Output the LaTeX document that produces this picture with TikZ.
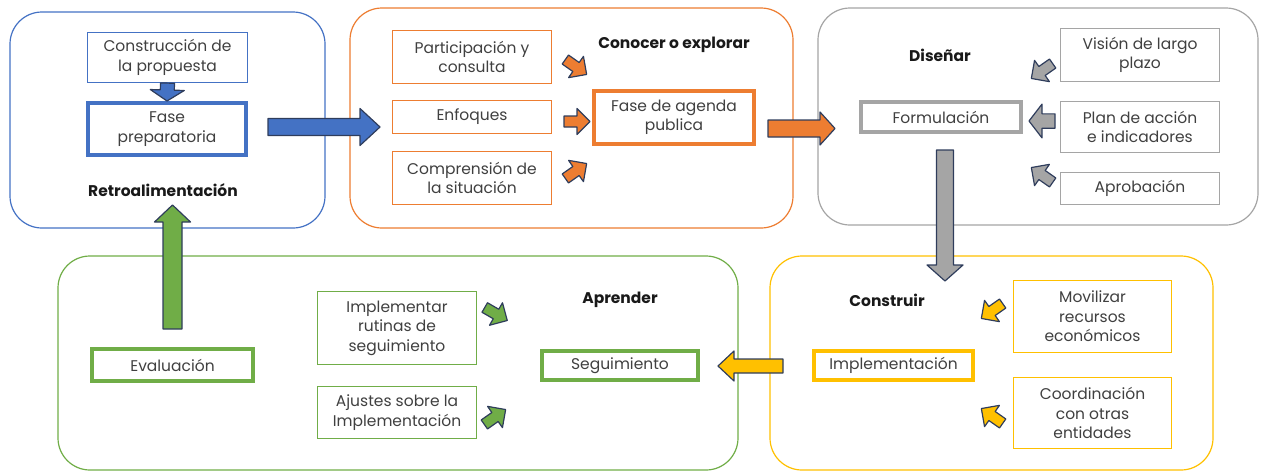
\documentclass[tikz,border=0pt]{standalone}
\usepackage{fontspec}
\setmainfont{Poppins}
\usetikzlibrary{calc}
\definecolor{stageblue}{HTML}{4472C4}
\definecolor{stageorange}{HTML}{ED7D31}
\definecolor{stagegray}{HTML}{A5A5A5}
\definecolor{stagegreen}{HTML}{70AD47}
\definecolor{stageyellow}{HTML}{FFC000}
\definecolor{outlinenavy}{HTML}{2F3D5C}
\definecolor{textgray}{HTML}{404040}
\tikzset{
  panel/.style={draw=#1, line width=1.2pt, rounded corners=32pt},
  wh/.style 2 args={minimum width=#1pt, minimum height=#2pt},
  subbox/.style={draw=#1, line width=1.2pt, fill=white, text=textgray, align=center,
    inner sep=1pt, font=\fontsize{15.5}{19.5}\selectfont},
  phasebox/.style={subbox=#1, line width=4pt},
  heading/.style={font=\fontsize{15.5}{18}\selectfont\bfseries, text=black!90},
  arrowline/.style={draw=outlinenavy, line width=1.2pt, line join=round},
}
\newcommand{\blockarrow}[6]{%
  \coordinate (ba-base) at ($(#3)!#6!(#2)$);
  \draw[arrowline, fill=#1] ($(#2)!#4!90:(#3)$) -- ($(ba-base)!#4!90:(#3)$)
    -- ($(ba-base)!#5!90:(#3)$) -- (#3) -- ($(ba-base)!#5!-90:(#3)$)
    -- ($(ba-base)!#4!-90:(#3)$) -- ($(#2)!#4!-90:(#3)$) -- cycle;}
\newcommand{\tinyarrow}[4][]{%
  \draw[arrowline, fill=#2, shift={(#3)}, rotate=#4, #1]
    (-13,-5.5) -- (0,-5.5) -- (0,-13) -- (13,0) -- (0,13) -- (0,5.5) -- (-13,5.5) -- cycle;}
\begin{document}
\begin{tikzpicture}[x=1pt, y=-1pt]
  \useasboundingbox (0,0) rectangle (1261,474);
  \draw[panel=stageblue] (10,12) rectangle (325,228);
  \draw[panel=stageorange] (350,8) rectangle (793,228);
  \draw[panel=stagegray] (818,8) rectangle (1258,225);
  \draw[panel=stagegreen] (58,256) rectangle (738,470);
  \draw[panel=stageyellow] (770,256) rectangle (1213,470);

  \node[subbox=stageblue, wh={160}{50}] (propuesta) at (167.5,57.5) {Construcción de\\la propuesta};
  \node[phasebox=stageblue, wh={158}{52}] (preparatoria) at (167,129) {Fase\\preparatoria};
  \node[heading] (retro) at (163,190) {Retroalimentación};

  \node[subbox=stageorange, wh={159}{53}] (participacion) at (472,57) {Participación y\\consulta};
  \node[subbox=stageorange, wh={159}{33}] (enfoques) at (472,117) {Enfoques};
  \node[subbox=stageorange, wh={159}{53}] (comprension) at (472,178) {Comprensión de\\la situación};
  \node[heading] (conocer) at (674,45) {Conocer o explorar};
  \node[phasebox=stageorange, wh={160}{53}] (agenda) at (674,117.5) {Fase de agenda\\publica};

  \node[heading] (disenar) at (940,55) {Diseñar};
  \node[phasebox=stagegray, wh={160}{30}] (formulacion) at (941,117) {Formulación};
  \node[subbox=stagegray, wh={159}{53}] (vision) at (1140,55) {Visión de largo\\plazo};
  \node[subbox=stagegray, wh={159}{51}] (plan) at (1140,127) {Plan de acción\\e indicadores};
  \node[subbox=stagegray, wh={159}{32}] (aprobacion) at (1140,188.5) {Aprobación};

  \node[phasebox=stagegreen, wh={161}{32}] (evaluacion) at (172.5,365) {Evaluación};
  \node[subbox=stagegreen, wh={159}{73}] (rutinas) at (397,328) {Implementar\\rutinas de\\seguimiento};
  \node[subbox=stagegreen, wh={159}{52}] (ajustes) at (397,412.5) {Ajustes sobre la\\Implementación};
  \node[heading] (aprender) at (620,300) {Aprender};
  \node[phasebox=stagegreen, wh={156}{29}] (seguimiento) at (620,365.5) {Seguimiento};

  \node[heading] (construir) at (887,300) {Construir};
  \node[phasebox=stageyellow, wh={159}{29}] (implementacion) at (893.5,365.5) {Implementación};
  \node[subbox=stageyellow, wh={158}{72}] (movilizar) at (1092.5,316.5) {Movilizar\\recursos\\económicos};
  \node[subbox=stageyellow, wh={158}{71}] (coordinacion) at (1092.5,413) {Coordinación\\con otras\\entidades};

  \coordinate (blue-tail) at (268,127);
  \coordinate (blue-tip) at (380,127);
  \coordinate (orange-tail) at (768,128.5);
  \coordinate (orange-tip) at (835,128.5);
  \coordinate (gray-tail) at (945,150);
  \coordinate (gray-tip) at (945,281);
  \coordinate (yellow-tail) at (783,366);
  \coordinate (yellow-tip) at (718,366);
  \coordinate (green-tail) at (172.5,329);
  \coordinate (green-tip) at (172.5,205);

  \blockarrow{stageblue}{propuesta.south}{preparatoria.north}{7pt}{17pt}{11pt}
  \blockarrow{stageblue}{blue-tail}{blue-tip}{8.5pt}{18.5pt}{20pt}
  \blockarrow{stageorange}{orange-tail}{orange-tip}{8.5pt}{16.5pt}{15pt}
  \blockarrow{stagegray}{gray-tail}{gray-tip}{8.5pt}{18pt}{16pt}
  \blockarrow{stageyellow}{yellow-tail}{yellow-tip}{7pt}{15pt}{16pt}
  \blockarrow{stagegreen}{green-tail}{green-tip}{9.5pt}{18pt}{17pt}

  \tinyarrow{stageorange}{576,67}{-35}
  \tinyarrow{stageorange}{577,121.5}{0}
  \tinyarrow{stageorange}{576,171}{35}
  \tinyarrow{stagegray}{1042,71}{-145}
  \tinyarrow[yscale=1.3]{stagegray}{1042,121}{180}
  \tinyarrow{stagegray}{1042,175}{145}
  \tinyarrow{stagegreen}{496,314}{-30}
  \tinyarrow{stagegreen}{495,417}{35}
  \tinyarrow{stageyellow}{992,311}{-145}
  \tinyarrow{stageyellow}{992,416}{145}
\end{tikzpicture}
\end{document}
